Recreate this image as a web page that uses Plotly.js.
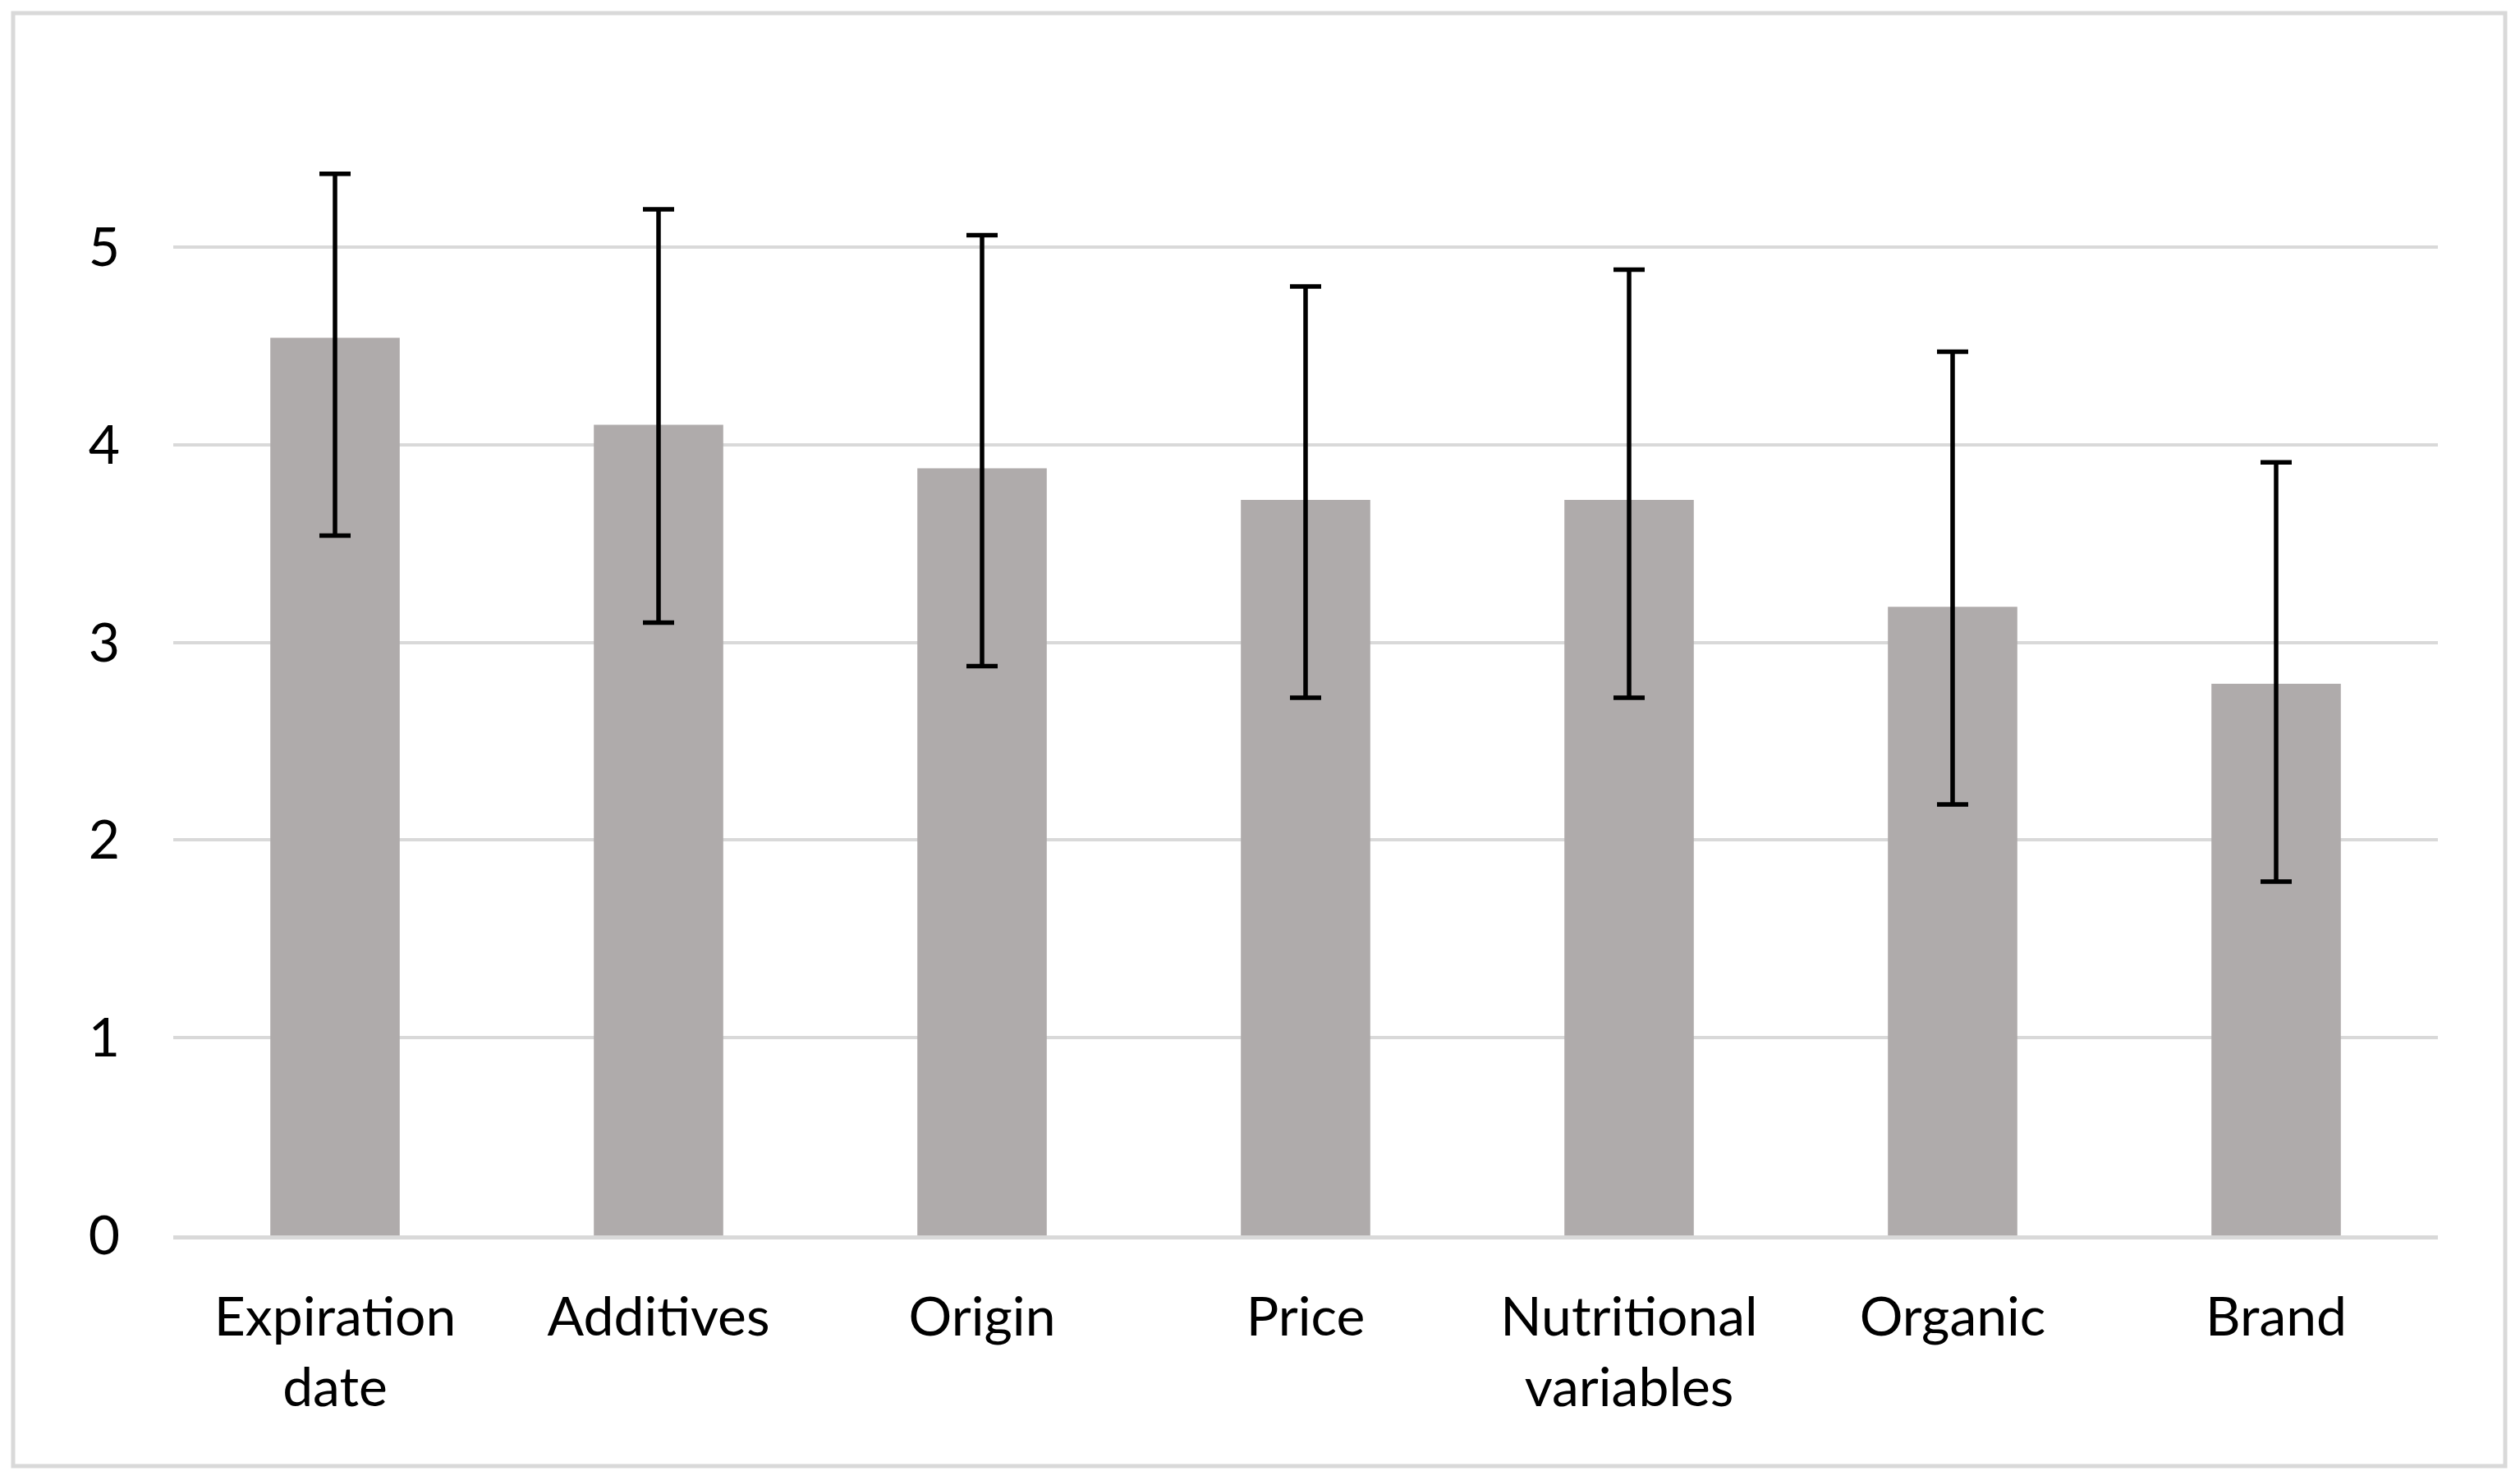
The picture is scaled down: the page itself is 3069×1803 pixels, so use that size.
<!DOCTYPE html>
<html>
<head>
<meta charset="utf-8">
<script src="https://cdn.plot.ly/plotly-3.0.1.min.js"></script>
<style>
  html, body { margin: 0; padding: 0; background: #ffffff; }
  #chart { width: 3069px; height: 1803px; }
</style>
</head>
<body>
<div id="chart"></div>
<script>
// ---- data ----
var categories = ["Expiration<br>date", "Additives", "Origin", "Price", "Nutritional<br>variables", "Organic", "Brand"];
var means      = [4.54, 4.10, 3.88, 3.72, 3.72, 3.18, 2.79];
var errPlus    = [0.83, 1.09, 1.18, 1.08, 1.165, 1.29, 1.12];
var errMinus   = [1.00, 1.00, 1.00, 1.00, 1.00, 1.00, 1.00];
var yTicks     = [0, 1, 2, 3, 4, 5];

// ---- layout geometry ----
var FIG_W = 3069, FIG_H = 1803;
var M = { l: 211, r: 100, t: 60, b: 298 };
var PW = FIG_W - M.l - M.r, PH = FIG_H - M.t - M.b;
function px2x(p) { return (p - M.l) / PW; }
function py2y(p) { return (FIG_H - p - M.b) / PH; }

var trace = {
  type: 'bar',
  x: categories,
  y: means,
  width: 0.4,
  marker: { color: '#AFABAB', line: { width: 0 } },
  error_y: {
    type: 'data',
    symmetric: false,
    array: errPlus,
    arrayminus: errMinus,
    color: '#000000',
    thickness: 5.5,
    width: 19
  },
  hoverinfo: 'none'
};

var font = { family: 'Lato, "Open Sans", sans-serif', size: 66, color: '#000000' };

var layout = {
  width: FIG_W,
  height: FIG_H,
  margin: M,
  paper_bgcolor: '#ffffff',
  plot_bgcolor: '#ffffff',
  showlegend: false,
  font: font,
  xaxis: {
    type: 'category',
    showgrid: false,
    showline: true,
    linecolor: '#d9d9d9',
    linewidth: 5,
    ticks: '',
    ticklabelstandoff: 38,
    tickfont: font,
    zeroline: false,
    fixedrange: true
  },
  yaxis: {
    range: [0, 6],
    tickvals: yTicks,
    ticktext: yTicks.map(String),
    showgrid: true,
    gridcolor: '#d9d9d9',
    gridwidth: 4,
    showline: false,
    zeroline: false,
    ticks: '',
    ticklabelstandoff: 64,
    tickfont: font,
    fixedrange: true
  },
  shapes: [{
    type: 'rect',
    xref: 'paper', yref: 'paper',
    x0: px2x(16), x1: px2x(3051),
    y0: py2y(1786), y1: py2y(16),
    line: { color: '#d9d9d9', width: 5 },
    fillcolor: 'rgba(0,0,0,0)',
    layer: 'below'
  }]
};

Plotly.newPlot('chart', [trace], layout, { displayModeBar: false, staticPlot: true });
</script>
</body>
</html>
